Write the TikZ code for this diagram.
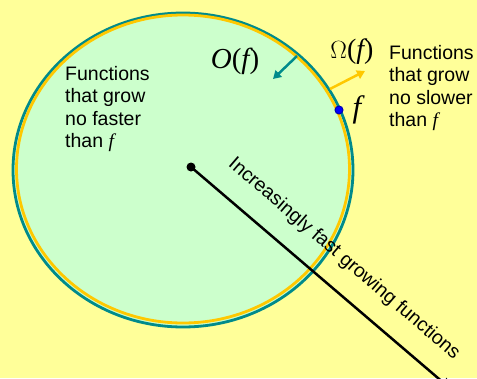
\documentclass[tikz,border=0pt]{standalone}
\usepackage{fontspec}
\setmainfont{Liberation Sans}
\newfontfamily\timesfont{Liberation Serif}
\usepackage{tikz}
\usetikzlibrary{positioning,arrows.meta}
\definecolor{paperYellow}{HTML}{FFFF99}
\definecolor{setGreen}{HTML}{CCFFCC}
\definecolor{bigTeal}{HTML}{008B8B}
\definecolor{omegaGold}{HTML}{FFC800}
\definecolor{dotBlue}{HTML}{0000FF}

\begin{document}
\begin{tikzpicture}[x=1pt, y=-1pt,
  caption/.style={font=\fontsize{19.5}{22.5}\selectfont, align=left, inner sep=0pt, anchor=north west},
  symb/.style={font=\timesfont\fontsize{29}{30}\selectfont, inner sep=0pt},
  pointer/.style={line width=2.5pt, -{Triangle[length=8pt,width=9pt]}}]
  \useasboundingbox (0,0) rectangle (477,378);
  \clip (0,0) rectangle (477,378);
  \fill[paperYellow] (0,0) rectangle (477,378);

  \draw[bigTeal, line width=2.8pt, fill=setGreen] (183,170) ellipse [x radius=170, y radius=157];
  \draw[omegaGold, line width=2.8pt] (183,169) ellipse [x radius=166.5, y radius=154];

  \node[caption] (slower) at (65,66) {Functions\\that grow\\no faster\\than {\timesfont\itshape f}};
  \node[caption] (faster) at (389,45) {Functions\\that grow\\no slower\\than {\timesfont\itshape f}};

  \node[symb] (bigO) at (235,61) {\itshape O\upshape(\itshape f\upshape)};
  \node[symb, font=\timesfont\fontsize{28}{30}\selectfont] (bigOmega) at (352,52) {$\Omega$(\itshape f\upshape)};
  \node[symb, font=\timesfont\itshape\fontsize{31}{32}\selectfont] (fname) at (357,110) {f};

  \coordinate (oBase) at (297,56);
  \coordinate (oTip) at (273,79);
  \coordinate (wBase) at (330,89);
  \coordinate (wTip) at (365,71);
  \draw[pointer, bigTeal] (oBase) -- (oTip);
  \draw[pointer, omegaGold] (wBase) -- (wTip);

  \node[circle, fill=dotBlue, draw=blue!70!black, line width=1pt, inner sep=0pt, minimum size=8pt] (fdot) at (339,110) {};

  \coordinate (far) at (452,390);
  \node[circle, fill=black, inner sep=0pt, minimum size=9pt] (centre) at (191,167) {};
  \draw[line width=2.5pt, -{Triangle[length=12pt,width=11pt]}] (centre.center) -- (far);
  \node[font=\fontsize{19.5}{22}\selectfont, rotate=-40.7, inner sep=0pt] (growth) at (344,259) {Increasingly fast growing functions};
\end{tikzpicture}
\end{document}
